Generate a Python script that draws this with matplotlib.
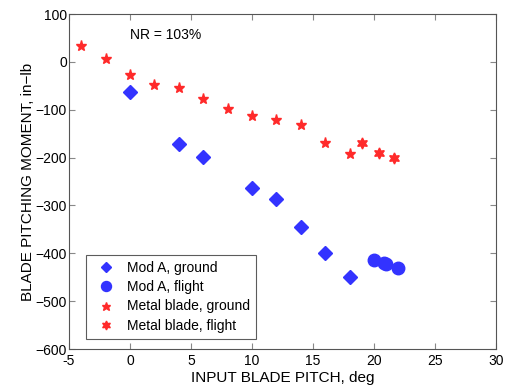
import matplotlib
matplotlib.use("Agg")
import matplotlib.pyplot as plt

plt.rcParams['font.family'] = ['Liberation Sans', 'DejaVu Sans']

modA_ground_x = [0, 4, 6, 10, 12, 14, 16, 18]
modA_ground_y = [-63, -172, -198, -264, -287, -346, -400, -449]
modA_flight_x = [20, 20.8, 21.0, 22]
modA_flight_y = [-414, -420, -423, -430]
metal_ground_x = [-4, -2, 0, 2, 4, 6, 8, 10, 12, 14, 16, 18]
metal_ground_y = [33, 5, -27, -48, -55, -77, -99, -114, -121, -132, -169, -193]
metal_flight_x = [19, 20.4, 21.6]
metal_flight_y = [-169, -190, -200]

xticks = [-5, 0, 5, 10, 15, 20, 25, 30]
yticks = [100, 0, -100, -200, -300, -400, -500, -600]

fig = plt.figure(figsize=(5.06, 3.88), dpi=100)
ax = fig.add_axes([69/506, 1-349/388, (496-69)/506, (349-14)/388])

blue = '#3333ff'
red = '#ff2a2a'
ax.plot(modA_ground_x, modA_ground_y, 'D', color=blue, ms=7, mec=blue, label='Mod A, ground', linestyle='none')
ax.plot(modA_flight_x, modA_flight_y, 'o', color=blue, ms=9, mec=blue, label='Mod A, flight', linestyle='none')
ax.plot(metal_ground_x, metal_ground_y, '*', color=red, ms=8, mec=red, label='Metal blade, ground', linestyle='none')
ax.plot(metal_flight_x, metal_flight_y, marker=(6, 1, 0), color=red, ms=8, mec=red, label='Metal blade, flight', linestyle='none')

ax.set_xlim(-5, 30)
ax.set_ylim(-600, 100)
ax.set_xticks(xticks)
ax.set_yticks(yticks)
ax.set_xticklabels([str(t) for t in xticks])
ax.set_yticklabels([str(t).replace('-', '\u2212') for t in yticks])
ax.tick_params(direction='in', top=True, right=True, labelsize=10, length=4, color='#888888')
ax.tick_params(axis='y', pad=1.5)
for s in ax.spines.values():
    s.set_color('#555555')
    s.set_linewidth(0.8)

ax.set_xlabel('INPUT BLADE PITCH, deg', fontsize=11, labelpad=2)
ax.set_ylabel('BLADE PITCHING MOMENT, in\u2212lb', fontsize=11, labelpad=0)
ax.text(0, 56, 'NR = 103%', fontsize=10, va='center', ha='left')

leg = ax.legend(loc='lower left', bbox_to_anchor=((86-69)/427, (349-339)/335), fontsize=10,
                frameon=True, fancybox=False, edgecolor='#333333', handletextpad=0.5,
                borderpad=0.45, labelspacing=0.38, handlelength=2.0, markerscale=0.8,
                borderaxespad=0)
leg.get_frame().set_linewidth(0.8)

fig.savefig('out.png', dpi=100)
